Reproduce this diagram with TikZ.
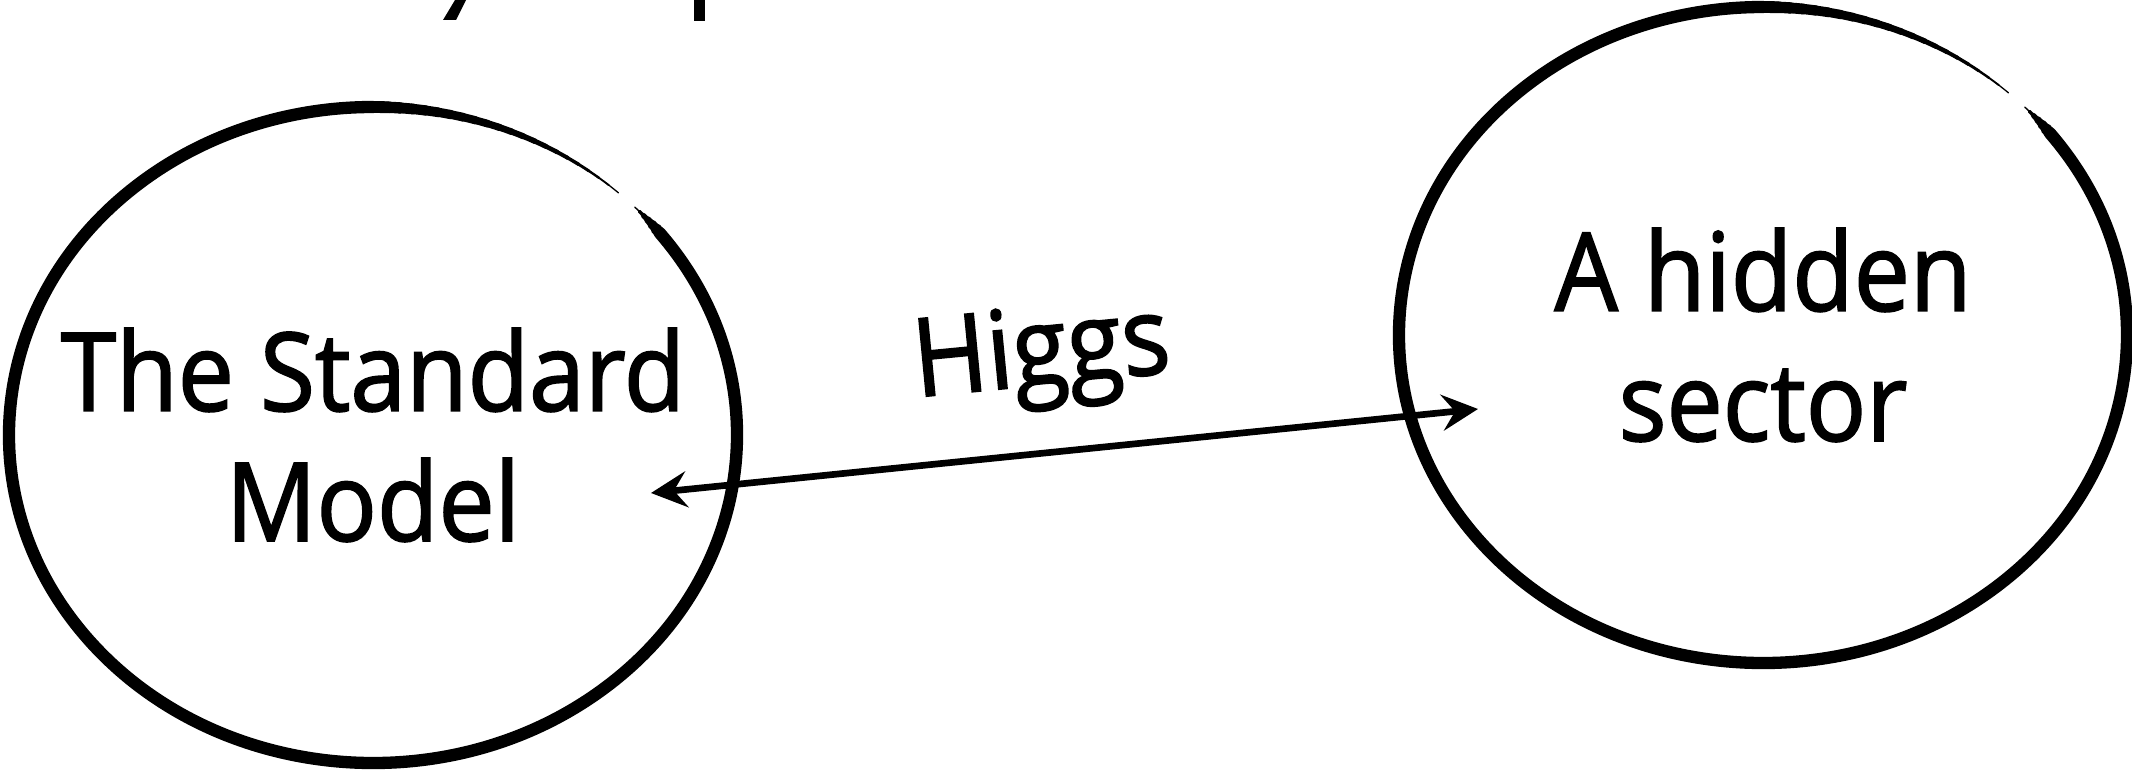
\documentclass[tikz,border=0pt]{standalone}
\usepackage{fontspec}
\setmainfont{Open Sans}[FakeStretch=0.92,FakeBold=1.6]
\usepackage{tikz}
\usetikzlibrary{arrows.meta,positioning,shapes.geometric,calc}

\begin{document}
\begin{tikzpicture}[
  sector/.style={ellipse,minimum width=7.28cm,minimum height=6.56cm,
    align=center,inner sep=0pt,font=\fontsize{31}{37}\selectfont},
  brush/.style={draw=black,line cap=round},
  flow/.style={{Stealth[length=3.6mm,width=3.6mm,inset=1.3mm]}-{Stealth[length=3.6mm,width=3.6mm,inset=1.3mm]},line width=1.9pt},
  lbl/.style={font=\fontsize{31}{37}\selectfont,inner sep=0pt}
]
  \useasboundingbox (0,0) rectangle (21.32,7.70);

  \node[sector] (sm) at (3.73,3.35) {The Standard\\Model};
  \node[sector] (hid) at (17.63,4.35) {A hidden\\sector};

  % hand drawn rings, open near the top right
  \foreach \n in {sm,hid} {
    \draw[brush,line width=3.5pt] ([shift={(38:3.64cm and 3.28cm)}]\n.center)
      arc[start angle=38,end angle=-270,x radius=3.64cm,y radius=3.28cm];
    \foreach \a [evaluate=\a as \w using {0.4+0.55*(44-\a)}] in {44,43,...,39}
      \draw[brush,line width=\w pt] ([shift={(\a:3.64cm and 3.28cm)}]\n.center)
        arc[start angle=\a,end angle=\a-1.3,x radius=3.64cm,y radius=3.28cm];
    \foreach \a [evaluate=\a as \w using {0.3+0.075*(\a-49)}] in {90,88,...,50}
      \draw[brush,line width=\w pt] ([shift={(\a:3.64cm and 3.28cm)}]\n.center)
        arc[start angle=\a,end angle=\a-2.4,x radius=3.64cm,y radius=3.28cm];
  }

  \coordinate (smend) at ($(sm.center)+(2.78,-0.58)$);
  \coordinate (hidend) at ($(hid.center)+(-2.85,-0.74)$);
  \draw[flow] (smend) -- (hidend);
  \node[lbl,rotate=5.5] (higgs) at (10.42,4.12) {Higgs};

  % cut off bits at the top edge
  \fill (4.43,7.50) -- (4.56,7.50) -- (4.66,7.70) -- (4.55,7.70) -- cycle;
  \fill (6.94,7.49) rectangle (7.05,7.70);
\end{tikzpicture}
\end{document}
